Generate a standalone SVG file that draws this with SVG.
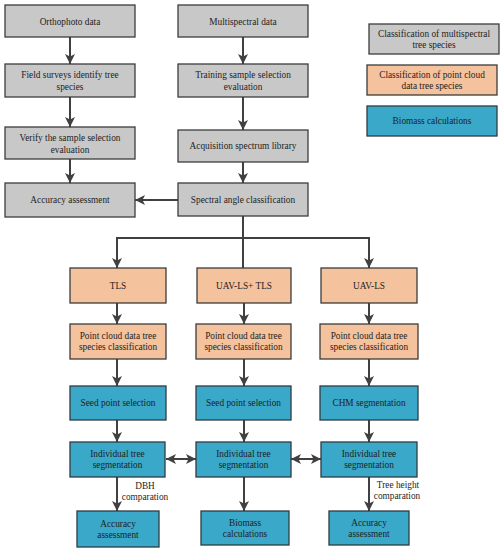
<svg xmlns="http://www.w3.org/2000/svg" width="503" height="550" viewBox="0 0 503 550">
<defs>
<style>
.g{fill:#c8c8c8;stroke:#3c3c3c;stroke-width:1.3}
.o{fill:#f4c29c;stroke:#3c3c3c;stroke-width:1.3}
.b{fill:#3aa8c8;stroke:#2f3b44;stroke-width:1.3}
text{font-family:"Liberation Serif","Times New Roman",serif;font-size:9.3px;fill:#1e1e1e;text-anchor:middle}
.c{stroke:#404040;stroke-width:2;fill:none}
.a{marker-end:url(#ah)}
.d{marker-start:url(#ahs);marker-end:url(#ah)}
</style>
<marker id="ah" markerUnits="userSpaceOnUse" markerWidth="12" markerHeight="12" refX="10" refY="5" orient="auto">
<path d="M0,0 L10,5 L0,10 L2.5,5 Z" fill="#404040"/>
</marker>
<marker id="ahs" markerUnits="userSpaceOnUse" markerWidth="12" markerHeight="12" refX="0" refY="5" orient="auto">
<path d="M10,0 L0,5 L10,10 L7.5,5 Z" fill="#404040"/>
</marker>
</defs>
<rect width="503" height="550" fill="#ffffff"/>
<g id="connectors">
<line class="c a" x1="70" y1="37" x2="70" y2="64"/>
<line class="c a" x1="70" y1="97" x2="70" y2="127"/>
<line class="c a" x1="70" y1="159" x2="70" y2="183"/>
<line class="c a" x1="243" y1="37" x2="243" y2="64"/>
<line class="c a" x1="243" y1="97" x2="243" y2="130"/>
<line class="c a" x1="243" y1="162" x2="243" y2="183"/>
<line class="c a" x1="178" y1="200" x2="135" y2="200"/>
<line class="c" x1="243" y1="216" x2="243" y2="268"/>
<line class="c" x1="117" y1="238" x2="369" y2="238"/>
<line class="c a" x1="117" y1="237" x2="117" y2="268"/>
<line class="c a" x1="369" y1="237" x2="369" y2="268"/>
<line class="c a" x1="117" y1="303" x2="117" y2="324"/>
<line class="c a" x1="244" y1="303" x2="244" y2="324"/>
<line class="c a" x1="369" y1="303" x2="369" y2="324"/>
<line class="c a" x1="117" y1="359" x2="117" y2="386"/>
<line class="c a" x1="244" y1="359" x2="244" y2="386"/>
<line class="c a" x1="369" y1="359" x2="369" y2="386"/>
<line class="c a" x1="117" y1="420" x2="117" y2="442"/>
<line class="c a" x1="244" y1="420" x2="244" y2="442"/>
<line class="c a" x1="369" y1="420" x2="369" y2="442"/>
<line class="c a" x1="117" y1="477" x2="117" y2="511"/>
<line class="c a" x1="244" y1="477" x2="244" y2="511"/>
<line class="c a" x1="369" y1="477" x2="369" y2="511"/>
<line class="c d" x1="166" y1="459" x2="196" y2="459"/>
<line class="c d" x1="291" y1="459" x2="321" y2="459"/>
<text x="145" y="489">DBH</text>
<text x="145" y="500">comparation</text>
<text x="398" y="488">Tree height</text>
<text x="397" y="499">comparation</text>
</g>
<g id="orthophoto"><rect class="g" x="5" y="5" width="130" height="32"/><text x="70" y="24.5">Orthophoto data</text></g>
<g id="field-surveys"><rect class="g" x="5" y="64" width="130" height="33"/><text x="70" y="78">Field surveys identify tree</text><text x="70" y="90">species</text></g>
<g id="verify"><rect class="g" x="5" y="127" width="130" height="32"/><text x="70" y="141">Verify the sample selection</text><text x="70" y="152.5">evaluation</text></g>
<g id="accuracy-left-top"><rect class="g" x="5" y="183" width="130" height="34"/><text x="70" y="203">Accuracy assessment</text></g>
<g id="multispectral"><rect class="g" x="178" y="5" width="130" height="32"/><text x="243" y="24.5">Multispectral data</text></g>
<g id="training"><rect class="g" x="178" y="64" width="130" height="33"/><text x="243" y="78">Training sample selection</text><text x="243" y="90">evaluation</text></g>
<g id="acquisition"><rect class="g" x="178" y="130" width="130" height="32"/><text x="243" y="149">Acquisition spectrum library</text></g>
<g id="spectral"><rect class="g" x="178" y="183" width="130" height="33"/><text x="243" y="203">Spectral angle classification</text></g>
<g id="legend-gray"><rect class="g" x="369" y="24" width="130" height="30"/><text x="434" y="37">Classification of multispectral</text><text x="434" y="48">tree species</text></g>
<g id="legend-orange"><rect class="o" x="367" y="65" width="130" height="30"/><text x="432" y="78">Classification of point cloud</text><text x="432" y="89">data tree species</text></g>
<g id="legend-blue"><rect class="b" x="367" y="106" width="130" height="30"/><text x="432" y="124">Biomass calculations</text></g>
<g id="tls"><rect class="o" x="70" y="268" width="96" height="35"/><text x="118" y="288.5">TLS</text></g>
<g id="uavls-tls"><rect class="o" x="197" y="268" width="94" height="35"/><text x="244" y="288.5">UAV-LS+ TLS</text></g>
<g id="uavls"><rect class="o" x="321" y="268" width="96" height="35"/><text x="369" y="288.5">UAV-LS</text></g>
<g id="pc1"><rect class="o" x="70" y="324" width="96" height="35"/><text x="118" y="339">Point cloud data tree</text><text x="118" y="350">species classification</text></g>
<g id="pc2"><rect class="o" x="196" y="324" width="95" height="35"/><text x="243.5" y="339">Point cloud data tree</text><text x="243.5" y="350">species classification</text></g>
<g id="pc3"><rect class="o" x="320" y="324" width="98" height="35"/><text x="369" y="339">Point cloud data tree</text><text x="369" y="350">species classification</text></g>
<g id="seed1"><rect class="b" x="70" y="386" width="96" height="34"/><text x="118" y="406">Seed point selection</text></g>
<g id="seed2"><rect class="b" x="196" y="386" width="95" height="34"/><text x="243.5" y="406">Seed point selection</text></g>
<g id="chm"><rect class="b" x="320" y="386" width="98" height="34"/><text x="369" y="406">CHM segmentation</text></g>
<g id="its1"><rect class="b" x="70" y="442" width="95" height="35"/><text x="117.5" y="457">Individual tree</text><text x="117.5" y="468">segmentation</text></g>
<g id="its2"><rect class="b" x="196" y="442" width="95" height="35"/><text x="243.5" y="457">Individual tree</text><text x="243.5" y="468">segmentation</text></g>
<g id="its3"><rect class="b" x="321" y="442" width="96" height="35"/><text x="369" y="457">Individual tree</text><text x="369" y="468">segmentation</text></g>
<g id="acc1"><rect class="b" x="77" y="511" width="82" height="36"/><text x="118" y="527">Accuracy</text><text x="118" y="538">assessment</text></g>
<g id="biomass"><rect class="b" x="201" y="511" width="88" height="34"/><text x="245" y="525.5">Biomass</text><text x="245" y="536.5">calculations</text></g>
<g id="acc2"><rect class="b" x="329" y="511" width="80" height="34"/><text x="369" y="525.5">Accuracy</text><text x="369" y="536.5">assessment</text></g>
</svg>
